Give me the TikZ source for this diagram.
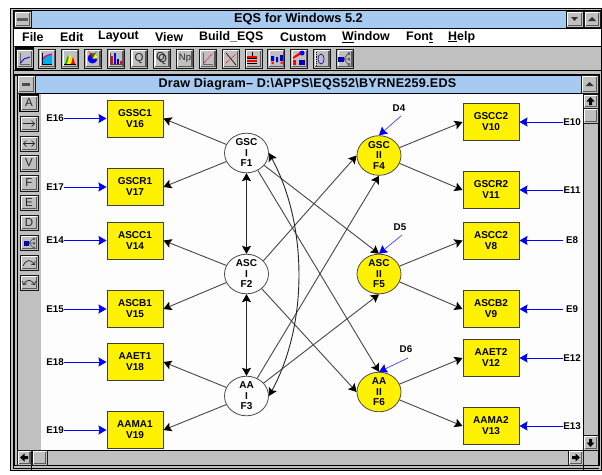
\documentclass[tikz,border=0pt]{standalone}
\usepackage{fontspec}
\setmainfont{Liberation Sans}
\usetikzlibrary{arrows.meta,shapes.geometric}
\definecolor{winblue}{RGB}{166,202,240}
\definecolor{wingray}{RGB}{192,192,192}
\definecolor{wingdark}{RGB}{90,90,90}
\definecolor{canvasw}{RGB}{253,253,253}
\definecolor{linegray}{RGB}{70,70,70}
\newcommand{\winbtn}[4]{%
  \fill[wingray] (#1,#2) rectangle (#3,#4);
  \draw[white,line width=1.2pt] (#1+1.5,#4-1.5) -- (#1+1.5,#2+1.5) -- (#3-1.5,#2+1.5);
  \draw[wingdark,line width=1.6pt] (#1+1.5,#4-1.5) -- (#3-1.5,#4-1.5) -- (#3-1.5,#2+1.5);
  \draw[black!90,line width=0.9pt] (#1,#2) rectangle (#3,#4);
}
\tikzset{
  x=1pt,y=-1pt,
  mvar/.style={draw=black!75,fill=yellow,line width=1pt,minimum width=56pt,minimum height=37pt,inner sep=0pt,align=center,font=\fontsize{10}{11}\selectfont\bfseries},
  lat/.style={ellipse,draw=black!70,fill=canvasw,line width=0.8pt,minimum width=44pt,minimum height=37pt,inner sep=0pt,align=center,font=\fontsize{10}{10.5}\selectfont\bfseries},
  latii/.style={lat,fill=yellow},
  lab/.style={inner sep=0pt,minimum width=18pt,font=\fontsize{9.8}{10}\selectfont\bfseries},
  conn/.style={draw=linegray,line width=0.9pt,-{Stealth[length=8pt,width=9pt,inset=1.5pt,color=black]}},
  twoway/.style={draw=black!85,line width=0.9pt,{Stealth[length=8pt,width=9pt,inset=1.5pt,color=black]}-{Stealth[length=8pt,width=9pt,inset=1.5pt,color=black]}},
  errarr/.style={draw=blue,line width=0.9pt,-{Stealth[length=8pt,width=9pt,inset=1pt]}},
  distarr/.style={draw=blue!75,line width=0.7pt,-{Stealth[length=8pt,width=9pt,inset=1pt,color=blue]}},
  ttl/.style={inner sep=0pt,font=\fontsize{12.8}{13}\selectfont\bfseries},
  menu/.style={inner sep=0pt,anchor=west,font=\fontsize{12.4}{13}\selectfont\bfseries},
  glyph/.style={inner sep=0pt,text=black!85,font=\fontsize{11.5}{12}\selectfont},
}
\begin{document}
\begin{tikzpicture}
\useasboundingbox (0,0) rectangle (602,474);
\fill[white] (0,0) rectangle (602,474);
% ---- window chrome
\fill[wingray] (10,8) rectangle (601,470);
\fill[winblue] (31,10) rectangle (566,28);
\fill[white] (13,28) rectangle (601,46);
\draw[black,line width=0.9pt] (10,8) rectangle (601,470);
\draw[black,line width=0.7pt] (13,10) -- (13,468) -- (599,468);
\draw[black,line width=0.9pt] (13,10) -- (601,10);
\draw[black,line width=0.9pt] (13,28) -- (601,28);
\draw[black,line width=0.9pt] (13,46) -- (601,46);
\draw[black,line width=1.4pt] (13,70.5) -- (601,70.5);
\draw[black,line width=0.7pt] (31,10) -- (31,28);
\draw[black,line width=0.7pt] (31,465) -- (31,470);
\draw[black,line width=0.7pt] (583,465) -- (583,470);
\winbtn{14}{11}{31}{27}
\fill[wingdark] (17,18) rectangle (28,20.5);
\winbtn{566}{11}{583}{27}
\winbtn{584}{11}{600}{27}
\fill[black!80] (571,17) -- (578,17) -- (574.5,21) -- cycle;
\fill[black!80] (588,21) -- (596,21) -- (592,17) -- cycle;
\node[ttl] (apptitle) at (298.5,19.5) {EQS for Windows 5.2};
\node[menu] (mfile) at (22,37) {File};
\node[menu] (medit) at (60,37) {Edit};
\node[menu] (mlayout) at (98,37) {Layout};
\node[menu] (mview) at (155,37) {View};
\node[menu] (mbuild) at (199,37) {Build\_EQS};
\node[menu] (mcustom) at (280,37) {Custom};
\node[menu] (mwindow) at (342,37) {\underline{W}indow};
\node[menu] (mfont) at (406,37) {Fon\underline{t}};
\node[menu] (mhelp) at (448,37) {\underline{H}elp};
% ---- toolbar buttons
\foreach \i in {0,...,14} {
  \pgfmathsetmacro{\xa}{16+22.9*\i}
  \pgfmathsetmacro{\xb}{\xa+17}
  \winbtn{\xa}{49}{\xb}{68}
}
\draw[black,line width=1.3pt] (15.5,48) rectangle (33.5,69);
% 1 line chart
\draw[black!60,line width=0.6pt] (20,53) -- (20,64) -- (30,64);
\draw[blue,line width=0.9pt] (20.5,63) -- (24,59) -- (30,57);
% 2 area chart
\fill[cyan] (42,64) -- (42,58) -- (47,55) -- (52,55) -- (52,64) -- cycle;
\draw[magenta,line width=1.3pt] (42,59) -- (47,55.5) -- (52,54);
\draw[black,line width=0.5pt] (42,53) -- (42,64) -- (52,64);
% 3 mountain
\fill[green!70!black] (65,64) -- (68,55) -- (70,64) -- cycle;
\fill[yellow] (67,64) -- (70,54) -- (73,64) -- cycle;
\fill[red] (71,64) -- (73,57) -- (75,64) -- cycle;
\draw[black,line width=0.5pt] (64,64) -- (76,64);
% 4 pie
\fill[blue] (92.5,58.5) circle (5);
\fill[red] (92.5,58.5) -- (92.5,53.5) arc[start angle=90,end angle=170,radius=5,y=1pt] -- cycle;
\fill[yellow] (92.5,58.5) -- (97.5,58.5) arc[start angle=0,end angle=-60,radius=5,y=1pt] -- cycle;
\fill[green!60!black] (92.5,58.5) -- (92.5,53.5) arc[start angle=90,end angle=30,radius=5,y=1pt] -- cycle;
% 5 bars
\fill[red] (111,56) rectangle (113,64);
\fill[blue] (114,53) rectangle (116,64);
\fill[blue!70!black] (117,59) rectangle (119,64);
\fill[red] (120,61) rectangle (122,64);
\draw[black!70,line width=0.5pt] (110,53) -- (110,64) -- (122,64);
% 6, 7, 8 glyphs
\node[glyph] (tq) at (139,58.5) {Q};
\node[glyph] (tqa) at (160.5,57.5) {Q};
\node[glyph] (tqb) at (162.5,59.5) {Q};
\node[glyph,font=\fontsize{9.5}{10}\selectfont] (tnp) at (185,58.5) {Np};
% 9 scatter
\draw[black!60,line width=0.5pt] (203,53) -- (203,64) -- (213,64);
\draw[red,line width=0.9pt,densely dotted] (204,63) -- (212,54);
% 10 cross scatter
\draw[black,line width=0.6pt] (226,53) -- (236,65);
\draw[red,line width=0.9pt,densely dotted] (226,63) -- (236,54);
% 11 stacked
\fill[red] (247,56) rectangle (257,58);
\fill[red] (247,60) rectangle (257,62);
\draw[black,line width=0.7pt] (247,58.8) -- (257,58.8) (252,52) -- (252,56) (247,63.5) -- (257,63.5);
% 12 clusters
\fill[blue!80!black] (271,56) rectangle (274,61) (276,57) rectangle (278,62) (280,55) rectangle (283,61);
\fill[red] (271.5,62) rectangle (273.5,64) (280.5,62) rectangle (282.5,64);
% 13 panels
\fill[blue] (302,53) circle (2.5);
\fill[red] (293,57) -- (300,52) -- (300,55) -- (293,59) -- cycle;
\fill[blue!70!black] (299,60) rectangle (305,65);
\fill[red] (293,60) rectangle (296,65);
% 14 spiral
\draw[blue!60!black,line width=0.6pt] (321,59) circle[x radius=3,y radius=5];
\draw[black,line width=0.8pt,densely dotted] (316,52) -- (316,66);
% 15 diagram
\fill[blue!70!black] (338,56.5) rectangle (344,61.5);
\draw[black!70,line width=0.7pt] (344,59) -- (348,53.5) (344,59) -- (348,59) (344,59) -- (348,64.5);
\fill[black!60] (348,52) rectangle (350,55) (348,57.5) rectangle (350,60.5) (348,63) rectangle (350,66);
% ---- document window
\draw[black,line width=0.9pt] (14,74) rectangle (599,465.5);
\draw[black,line width=0.9pt] (17,74) -- (17,465.5);
\fill[winblue] (35,75) rectangle (581,93);
\draw[black,line width=0.9pt] (14,75) -- (599,75);
\draw[black,line width=0.9pt] (17,93) -- (598,93);
\winbtn{17}{75}{35}{93}
\fill[black!70] (22,83) rectangle (30,85.5);
\winbtn{581}{75}{598}{93}
\fill[black!80] (585.5,86) -- (593.5,86) -- (589.5,82) -- cycle;
\node[ttl,font=\fontsize{12.6}{13}\selectfont\bfseries\addfontfeatures{LetterSpace=2}] (doctitle) at (307.5,84.5) {Draw Diagram-- D:\textbackslash APPS\textbackslash EQS52\textbackslash BYRNE259.EDS};
\fill[canvasw] (41,93.5) rectangle (583,450);
\draw[black,line width=0.9pt] (583,93) -- (583,465);
\draw[black,line width=0.9pt] (17,450) -- (598,450);
\draw[black,line width=0.9pt] (598,93) -- (598,465);
\draw[black,line width=0.9pt] (17,465) -- (598,465);
% scroll bars
\winbtn{583}{94}{598}{108}
\fill[black] (590.5,97) -- (594.5,101.5) -- (592,101.5) -- (592,105) -- (589,105) -- (589,101.5) -- (586.5,101.5) -- cycle;
\winbtn{583}{108}{598}{123}
\winbtn{583}{435}{598}{450}
\fill[black] (590.5,447) -- (594.5,442.5) -- (592,442.5) -- (592,439) -- (589,439) -- (589,442.5) -- (586.5,442.5) -- cycle;
\winbtn{17}{450}{31.5}{465}
\fill[black] (20,457.5) -- (24.5,453.5) -- (24.5,456) -- (28,456) -- (28,459) -- (24.5,459) -- (24.5,461.5) -- cycle;
\winbtn{32}{450}{47}{465}
\winbtn{568}{450}{583}{465}
\fill[black] (580,457.5) -- (575.5,453.5) -- (575.5,456) -- (572,456) -- (572,459) -- (575.5,459) -- (575.5,461.5) -- cycle;
% left tool buttons
\winbtn{20}{95}{38}{111}
\winbtn{20}{116}{38}{131}
\winbtn{20}{136}{38}{151}
\winbtn{20}{155}{38}{171}
\winbtn{20}{175}{38}{191}
\winbtn{20}{195}{38}{210}
\winbtn{20}{215}{38}{230}
\winbtn{20}{235}{38}{250}
\winbtn{20}{255}{38}{270}
\winbtn{20}{275}{38}{290}
\draw[black,line width=1.3pt] (19.5,94.5) rectangle (38.5,111.5);
\node[glyph] (ta) at (29,103) {A};
\draw[black!85,line width=0.7pt,-{Straight Barb[length=3pt,width=6pt]}] (23,123.5) -- (35,123.5);
\draw[black!85,line width=0.7pt,{Straight Barb[length=3pt,width=6pt]}-{Straight Barb[length=3pt,width=6pt]}] (23,143.5) -- (35,143.5);
\node[glyph] (tv) at (29,163) {V};
\node[glyph] (tf) at (29,183) {F};
\node[glyph] (te) at (29,202.5) {E};
\node[glyph] (td) at (29,222.5) {D};
\fill[blue!70!black] (24,240.5) rectangle (29,245.5);
\draw[black!70,line width=0.6pt] (29,243) -- (33,238.5) (29,243) -- (33,243) (29,243) -- (33,247.5);
\fill[black!60] (33,237.5) rectangle (35,240) (33,242) rectangle (35,244.5) (33,246.5) rectangle (35,249);
\draw[black!85,line width=0.7pt,-{Straight Barb[length=2.5pt,width=5pt]}] (23,266) .. controls (27,258) and (31,260) .. (35,265);
\draw[black!85,line width=0.7pt,{Straight Barb[length=2.5pt,width=5pt]}-{Straight Barb[length=2.5pt,width=5pt]}] (23,285) .. controls (27,279) and (31,279) .. (35,285);
% ---- measured variables
\node[mvar] (V16) at (135,118.5) {GSSC1\\V16};
\node[mvar] (V17) at (135,187) {GSCR1\\V17};
\node[mvar] (V14) at (135,240.5) {ASCC1\\V14};
\node[mvar] (V15) at (135,309) {ASCB1\\V15};
\node[mvar] (V18) at (135,362) {AAET1\\V18};
\node[mvar] (V19) at (135,430) {AAMA1\\V19};
\node[mvar] (V10) at (491,122) {GSCC2\\V10};
\node[mvar] (V11) at (491,190) {GSCR2\\V11};
\node[mvar] (V8) at (491,240.5) {ASCC2\\V8};
\node[mvar] (V9) at (491,309) {ASCB2\\V9};
\node[mvar] (V12) at (491,358) {AAET2\\V12};
\node[mvar] (V13) at (491,426) {AAMA2\\V13};
% ---- factors
\node[lat] (F1) at (246.5,153) {GSC\\I\\F1};
\node[lat] (F2) at (246.5,274) {ASC\\I\\F2};
\node[lat] (F3) at (246.5,396) {AA\\I\\F3};
\node[latii] (F4) at (379,155.5) {GSC\\II\\F4};
\node[latii] (F5) at (379,274) {ASC\\II\\F5};
\node[latii] (F6) at (379,392) {AA\\II\\F6};
% ---- error labels
\node[lab] (E16) at (55,118.5) {E16};
\node[lab] (E17) at (55,187) {E17};
\node[lab] (E14) at (55,240.5) {E14};
\node[lab] (E15) at (55,309) {E15};
\node[lab] (E18) at (55,362) {E18};
\node[lab] (E19) at (55,430) {E19};
\node[lab] (E10) at (572,122) {E10};
\node[lab] (E11) at (572,190) {E11};
\node[lab] (E8) at (572,240.5) {E8};
\node[lab] (E9) at (572,309) {E9};
\node[lab] (E12) at (572,358) {E12};
\node[lab] (E13) at (572,426) {E13};
\node[lab] (D4) at (399,108) {D4};
\node[lab] (D5) at (400,227) {D5};
\node[lab] (D6) at (406,349) {D6};
\coordinate (D4s) at (401,116);
\coordinate (D5s) at (402,235);
\coordinate (D6s) at (408,358);
% ---- connectors
\foreach \e/\v in {E16/V16,E17/V17,E14/V14,E15/V15,E18/V18,E19/V19}
  \draw[errarr] (\e.east) -- (\v.west);
\foreach \e/\v in {E10/V10,E11/V11,E8/V8,E9/V9,E12/V12,E13/V13}
  \draw[errarr] (\e.west) -- (\v.east);
\draw[distarr] (D4s) -- (F4.north);
\draw[distarr] (D5s) -- (F5.north);
\draw[distarr] (D6s) -- (F6.north);
\draw[conn] (F1.157) -- (V16.east);
\draw[conn] (F1.203) -- (V17.east);
\draw[conn] (F2.157) -- (V14.east);
\draw[conn] (F2.203) -- (V15.east);
\draw[conn] (F3.157) -- (V18.east);
\draw[conn] (F3.203) -- (V19.east);
\draw[conn] (F4.21) -- (V10.west);
\draw[conn] (F4.-21) -- (V11.west);
\draw[conn] (F5.21) -- (V8.west);
\draw[conn] (F5.-21) -- (V9.west);
\draw[conn] (F6.21) -- (V12.west);
\draw[conn] (F6.-21) -- (V13.west);
\draw[conn] (F1.-35) -- (F5.north);
\draw[conn] (F1.-57) -- (F6.north);
\draw[conn] (F2.38) -- (F4.west);
\draw[conn] (F2.-44) -- (F6.west);
\draw[conn] (F3.59) -- (F4.south);
\draw[conn] (F3.37) -- (F5.south);
\draw[twoway] (F1.south) -- (F2.north);
\draw[twoway] (F2.south) -- (F3.north);
\draw[twoway] (F1.east) .. controls (308,225) and (308,325) .. (F3.east);
\end{tikzpicture}
\end{document}
